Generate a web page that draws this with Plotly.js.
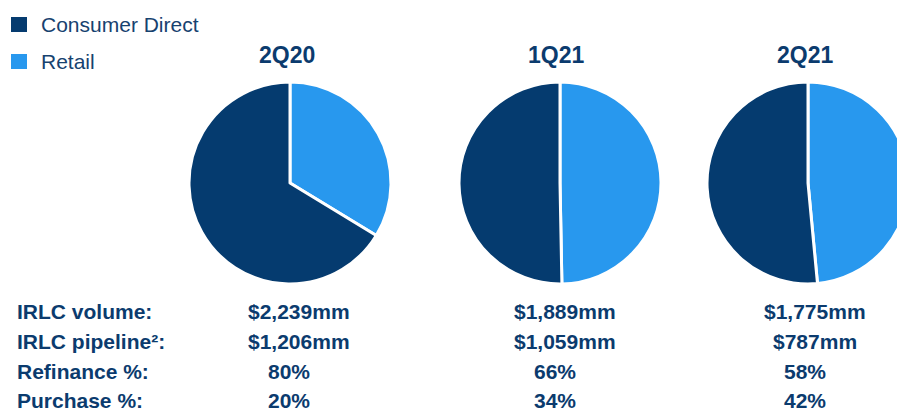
<!DOCTYPE html>
<html>
<head>
<meta charset="utf-8">
<script src="https://cdn.plot.ly/plotly-3.0.1.min.js"></script>
<style>
html, body { margin:0; padding:0; overflow:hidden; background:#fff; width:897px; height:411px; }
#chart { width:920px; height:411px; }
</style>
</head>
<body>
<div id="chart"></div>
<script>
// ---- data ----
const periods = ["2Q20", "1Q21", "2Q21"];
const segments = ["Consumer Direct", "Retail"];
const consumerDirect = [66.3, 50.3, 51.5];
const retail = [33.7, 49.7, 48.5];
const rowLabels = ["IRLC volume:", "IRLC pipeline²:", "Refinance %:", "Purchase %:"];
const irlcVolume = ["$2,239mm", "$1,889mm", "$1,775mm"];
const irlcPipeline = ["$1,206mm", "$1,059mm", "$787mm"];
const refinancePct = ["80%", "66%", "58%"];
const purchasePct = ["20%", "34%", "42%"];

// ---- layout helpers ----
const W = 920, H = 411;
const px = x => x / W;
const py = y => 1 - y / H;
const DARK = "#053B6F", LIGHT = "#2898EE", TXT = "#0B3B6E";

const pieCenters = [290, 560, 808];
const pieCy = 183, pieR = 101;

// Retail drawn first, clockwise from 12 o'clock (right side); Consumer Direct fills the rest
const traces = periods.map((p, i) => ({
  type: "pie",
  labels: [segments[1], segments[0]],
  values: [retail[i], consumerDirect[i]],
  sort: false,
  direction: "clockwise",
  rotation: 0,
  textinfo: "none",
  hoverinfo: "label+percent",
  showlegend: false,
  marker: { colors: [LIGHT, DARK], line: { color: "#ffffff", width: 3 } },
  domain: {
    x: [px(pieCenters[i] - pieR), px(pieCenters[i] + pieR)],
    y: [py(pieCy + pieR), py(pieCy - pieR)]
  }
}));

const annotations = [];
const shapes = [];
// titles
const titleX = [287, 556, 805];
periods.forEach((p, i) => annotations.push({
  xref: "paper", yref: "paper", x: px(titleX[i]), y: py(55),
  xanchor: "center", yanchor: "middle", showarrow: false,
  text: "<b>" + p + "</b>", font: { family: "Liberation Sans, Arial, sans-serif", size: 23, color: TXT }
}));
// legend
const legY = [24.5, 61.5];
const legCol = [DARK, LIGHT];
segments.forEach((s, i) => {
  shapes.push({ type: "rect", xref: "paper", yref: "paper",
    x0: px(11), x1: px(27), y0: py(legY[i] + 7.5), y1: py(legY[i] - 7.5),
    fillcolor: legCol[i], line: { width: 0 } });
  annotations.push({ xref: "paper", yref: "paper", x: px(39), y: py(legY[i]),
    xanchor: "left", yanchor: "middle", showarrow: false, text: s,
    font: { family: "Liberation Sans, Arial, sans-serif", size: 21, color: "#17426F" } });
});
// table
const rowY = [311, 341, 371, 400];
const rows = [irlcVolume, irlcPipeline, refinancePct, purchasePct];
const moneyX = [299, 565, 815];
const pctX = [289, 555, 805];
const tf = { family: "Liberation Sans, Arial, sans-serif", size: 21, color: TXT };
rowLabels.forEach((lab, r) => {
  annotations.push({ xref: "paper", yref: "paper", x: px(15), y: py(rowY[r]),
    xanchor: "left", yanchor: "middle", showarrow: false, text: "<b>" + lab + "</b>", font: tf });
  rows[r].forEach((v, c) => {
    const cx = r < 2 ? moneyX[c] : pctX[c];
    annotations.push({ xref: "paper", yref: "paper", x: px(cx), y: py(rowY[r]),
      xanchor: "center", yanchor: "middle", showarrow: false, text: "<b>" + v + "</b>", font: tf });
  });
});

Plotly.newPlot("chart", traces, {
  width: W, height: H,
  margin: { l: 0, r: 0, t: 0, b: 0 },
  paper_bgcolor: "#ffffff",
  showlegend: false,
  annotations: annotations,
  shapes: shapes
}, { displayModeBar: false });
</script>
</body>
</html>
